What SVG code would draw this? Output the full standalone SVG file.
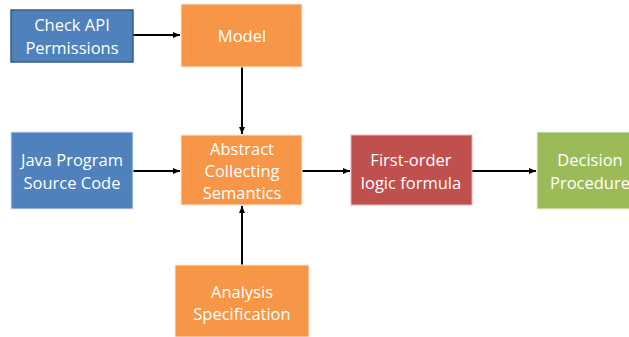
<svg xmlns="http://www.w3.org/2000/svg" width="629" height="337" viewBox="0 0 629 337">
<defs>
<marker id="ah" markerWidth="8" markerHeight="8" refX="7" refY="4" orient="auto" markerUnits="userSpaceOnUse">
<path d="M0,1 L7,4 L0,7 Z" fill="#000"/>
</marker>
<style>
text{font-family:"Open Sans","Liberation Sans",sans-serif;font-size:16.5px;fill:#fff;text-anchor:middle}
.c{stroke:#000;stroke-width:2;fill:none;marker-end:url(#ah)}
.blue{fill:#4f81bd}
.orange{fill:#f79646;stroke:#fde9d9;stroke-width:1}
.red{fill:#c0504d;stroke:#e6b9b8;stroke-width:1}
.green{fill:#9bbb59;stroke:#ebf1de;stroke-width:1}
</style>
</defs>
<rect width="629" height="337" fill="#fff"/>
<g id="connectors">
<line class="c" x1="133" y1="35" x2="180" y2="35"/>
<line class="c" x1="242" y1="67" x2="242" y2="134"/>
<line class="c" x1="133" y1="171" x2="180" y2="171"/>
<line class="c" x1="302" y1="171" x2="350" y2="171"/>
<line class="c" x1="472" y1="171" x2="536" y2="171"/>
<line class="c" x1="242" y1="265" x2="242" y2="206"/>
</g>
<g id="check-api">
<rect class="blue" x="11" y="10" width="122" height="52" stroke="#385d8a" stroke-width="1.5"/>
<text x="72" y="31">Check API</text>
<text x="72" y="54">Permissions</text>
</g>
<g id="model">
<rect class="orange" x="181" y="4" width="121" height="63"/>
<text x="242" y="42">Model</text>
</g>
<g id="java">
<rect class="blue" x="11" y="132" width="122" height="77" stroke="#dce6f2" stroke-width="1"/>
<text x="72" y="166">Java Program</text>
<text x="72" y="189">Source Code</text>
</g>
<g id="acs">
<rect class="orange" x="181" y="135" width="121" height="70"/>
<text x="242" y="155">Abstract</text>
<text x="242" y="177">Collecting</text>
<text x="242" y="199">Semantics</text>
</g>
<g id="fol">
<rect class="red" x="351" y="135" width="121" height="70"/>
<text x="411" y="166">First-order</text>
<text x="411" y="189">logic formula</text>
</g>
<g id="decision">
<rect class="green" x="537" y="132" width="100" height="77"/>
<text x="590" y="166">Decision</text>
<text x="590" y="189">Procedure</text>
</g>
<g id="analysis">
<rect class="orange" x="175" y="265" width="134" height="72"/>
<text x="242" y="298">Analysis</text>
<text x="242" y="320">Specification</text>
</g>
</svg>
